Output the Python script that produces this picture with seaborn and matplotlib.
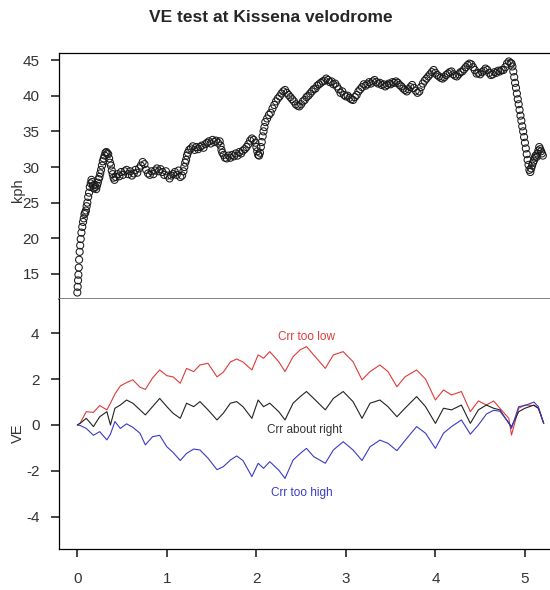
import matplotlib
matplotlib.use("Agg")
import matplotlib.pyplot as plt
import seaborn as sns
import pandas as pd

# speed trace (distance km, speed kph)
dist_km = [
    0.000, 0.004, 0.008, 0.012, 0.016, 0.020, 0.026, 0.032, 0.038, 0.046, 0.055, 0.064,
    0.072, 0.080, 0.088, 0.096, 0.104, 0.112, 0.121, 0.131, 0.140, 0.150, 0.158,
    0.166, 0.175, 0.184, 0.193, 0.202, 0.211, 0.220, 0.229, 0.238, 0.247, 0.256,
    0.265, 0.275, 0.285, 0.295, 0.305, 0.315, 0.325, 0.335, 0.345, 0.355, 0.365, 0.375,
    0.385, 0.395, 0.405, 0.415,
    0.43, 0.45, 0.47, 0.49, 0.51, 0.53, 0.55, 0.57, 0.59, 0.61, 0.63, 0.65, 0.67, 0.69,
    0.71, 0.73, 0.75, 0.77, 0.79, 0.81, 0.83, 0.85, 0.87, 0.89, 0.91, 0.93, 0.95, 0.97,
    0.99, 1.01, 1.03, 1.05, 1.07, 1.09, 1.11, 1.13, 1.15, 1.17,
    1.185, 1.195, 1.205, 1.215, 1.225, 1.235, 1.25, 1.27,
    1.29, 1.31, 1.33, 1.35, 1.37, 1.39, 1.41, 1.43, 1.45, 1.47, 1.49, 1.51, 1.53, 1.55,
    1.57, 1.59, 1.60, 1.61, 1.62, 1.635, 1.65, 1.67, 1.69, 1.71, 1.73, 1.75, 1.77, 1.79,
    1.81, 1.83, 1.85, 1.87, 1.89, 1.91, 1.93, 1.95, 1.97, 1.99, 2.00, 2.01, 2.02, 2.03, 2.04,
    2.05, 2.06, 2.07, 2.08, 2.09, 2.10, 2.12, 2.14, 2.16, 2.18, 2.20, 2.22, 2.24, 2.26,
    2.28, 2.30, 2.32, 2.34, 2.36, 2.38, 2.40, 2.42, 2.44, 2.46, 2.48, 2.50, 2.52, 2.54,
    2.56, 2.58, 2.60, 2.62, 2.64, 2.66, 2.68, 2.70, 2.72, 2.74, 2.76, 2.78, 2.80, 2.82,
    2.84, 2.86, 2.88, 2.90, 2.92, 2.94, 2.96, 2.98, 3.00, 3.02, 3.04, 3.06, 3.08, 3.10,
    3.12, 3.14, 3.16, 3.18, 3.20, 3.22, 3.24, 3.26, 3.28, 3.30, 3.32, 3.34, 3.36, 3.38,
    3.40, 3.42, 3.44, 3.46, 3.48, 3.50, 3.52, 3.54, 3.56, 3.58, 3.60, 3.62, 3.64, 3.66,
    3.68, 3.70, 3.72, 3.74, 3.76, 3.78, 3.80, 3.82, 3.84, 3.86, 3.88, 3.90, 3.92, 3.94,
    3.96, 3.98, 4.00, 4.02, 4.04, 4.06, 4.08, 4.10, 4.12, 4.14, 4.16, 4.18, 4.20, 4.22,
    4.24, 4.26, 4.28, 4.30, 4.32, 4.34, 4.36, 4.38, 4.40, 4.42, 4.44, 4.46, 4.48, 4.50,
    4.52, 4.54, 4.56, 4.58, 4.60, 4.62, 4.64, 4.66, 4.68, 4.70, 4.72, 4.74, 4.76, 4.78,
    4.80, 4.82, 4.84, 4.85,
    4.86, 4.87, 4.88, 4.89, 4.90, 4.91, 4.92, 4.93, 4.94, 4.95, 4.96, 4.97, 4.98, 4.99,
    5.00, 5.01, 5.02, 5.03, 5.04, 5.05, 5.06, 5.07, 5.08, 5.09, 5.10, 5.11, 5.12, 5.13,
    5.14, 5.15, 5.16, 5.17, 5.18, 5.19, 5.20,
]
speed_kph = [
    12.4, 13.2, 14.1, 14.9, 15.9, 17.0, 18.1, 19.0, 19.9, 20.8, 21.6, 22.3,
    22.8, 23.4, 23.6, 23.9, 24.5, 25.0, 25.8, 26.4, 27.2, 27.7, 28.2,
    27.9, 27.4, 27.0, 27.5, 27.2, 26.9, 27.4, 27.8, 28.3, 28.6, 29.1,
    29.6, 30.2, 30.8, 31.2, 31.6, 32.0, 32.1, 31.9, 31.8, 31.2, 30.6, 30.2,
    29.5, 29.0, 28.5, 28.2,
    28.6, 29.0, 28.7, 29.3, 28.9, 29.4, 29.6, 29.0, 29.4, 28.8, 29.1, 29.6, 29.2, 29.8,
    30.2, 30.7, 30.4, 29.6, 29.1, 28.9, 29.4, 29.0, 29.5, 29.8, 29.4, 29.7, 29.3, 28.9,
    29.4, 28.8, 28.4, 28.8, 29.0, 29.3, 28.9, 29.5, 28.6, 28.8,
    29.4, 30.0, 30.6, 31.0, 31.6, 32.0, 32.4, 32.6,
    32.9, 32.4, 32.8, 32.5, 32.8, 33.0, 32.7, 33.2, 33.4, 33.6, 33.3, 33.8, 33.5, 33.7,
    33.4, 33.6, 33.0, 32.4, 32.0, 31.7, 31.3, 31.2, 31.6, 31.3, 31.7, 31.5, 31.9, 31.6,
    32.1, 31.9, 32.3, 32.5, 32.8, 33.2, 33.7, 34.0, 33.8, 33.4, 32.8, 32.2, 31.7, 31.6, 32.0,
    32.8, 33.5, 34.3, 35.0, 35.6, 36.3, 36.8, 37.3, 37.6, 38.2, 38.7, 39.2, 39.6, 39.9,
    40.3, 40.6, 40.8, 40.4, 40.1, 39.8, 39.5, 39.2, 38.8, 38.6, 38.5, 38.8, 39.2, 39.4,
    39.8, 40.0, 40.3, 40.6, 40.9, 41.0, 41.4, 41.6, 41.8, 42.0, 42.1, 42.4, 42.2, 41.9,
    42.0, 41.6, 41.7, 41.3, 40.9, 40.4, 40.6, 40.1, 39.9, 40.0, 39.7, 39.5, 39.4, 39.8,
    40.1, 40.6, 40.9, 41.2, 41.6, 41.4, 41.6, 41.9, 41.7, 42.0, 42.2, 41.9, 41.7, 41.8,
    41.5, 41.6, 41.3, 41.5, 41.7, 41.6, 41.9, 41.8, 42.0, 41.8, 41.5, 41.3, 41.0, 40.8,
    40.6, 40.9, 41.2, 41.5, 41.1, 40.7, 40.4, 40.6, 41.2, 41.7, 42.1, 42.4, 42.7, 43.0,
    43.3, 43.6, 43.2, 42.9, 42.7, 42.5, 42.4, 42.6, 42.9, 43.1, 43.3, 43.4, 43.0, 42.8,
    42.7, 43.0, 43.3, 43.4, 43.7, 44.0, 44.3, 44.5, 44.4, 44.0, 43.6, 43.1, 43.2, 43.0,
    43.3, 43.5, 43.8, 43.6, 43.2, 42.9, 43.0, 43.3, 43.2, 43.5, 43.4, 43.6, 43.6, 44.0,
    44.5, 44.8, 44.6, 44.5,
    44.1, 43.4, 42.6, 41.8, 41.1, 40.3, 39.5, 38.8, 38.0, 37.2, 36.5, 35.7, 35.0, 34.2,
    33.4, 32.6, 31.8, 31.0, 30.3, 29.6, 29.3, 29.8, 30.2, 30.6, 30.9, 31.3, 31.6, 31.4,
    31.9, 32.3, 32.8, 32.5, 32.2, 31.9, 31.6,
]

# virtual elevation for three Crr guesses
ve_dist = [
    0.00, 0.03, 0.10, 0.18, 0.25, 0.33, 0.37, 0.42, 0.48, 0.55, 0.62, 0.70, 0.76, 0.84,
    0.92, 1.00, 1.07, 1.15, 1.22, 1.30, 1.37, 1.46, 1.56, 1.63, 1.71, 1.78, 1.85, 1.95,
    2.02, 2.08, 2.15, 2.25, 2.32, 2.41, 2.49, 2.56, 2.64, 2.77, 2.86, 2.97, 3.08, 3.18,
    3.27, 3.38, 3.47, 3.57, 3.66, 3.79, 3.89, 4.00, 4.09, 4.18, 4.29, 4.39, 4.48, 4.57,
    4.65, 4.72, 4.82, 4.85, 4.93, 5.00, 5.10, 5.15, 5.21,
]
ve_low = [
    0.00, 0.07, 0.58, 0.55, 0.85, 0.66, 0.95, 1.35, 1.70, 1.85, 1.97, 1.65, 1.55, 2.05,
    2.40, 2.15, 2.10, 1.82, 2.47, 2.33, 2.62, 2.69, 2.10, 2.30, 2.75, 2.88, 2.75, 2.40,
    3.06, 2.91, 3.20, 2.76, 2.33, 2.98, 3.28, 3.42, 3.06, 2.47, 3.06, 3.20, 2.76, 1.97,
    2.33, 2.62, 2.33, 1.67, 2.10, 2.40, 2.00, 1.09, 1.53, 1.31, 1.46, 0.58, 1.05, 0.87,
    1.05, 0.73, 0.29, -0.44, 0.73, 0.87, 0.85, 0.73, 0.07,
]
ve_right = [
    0.00, 0.07, 0.29, -0.07, 0.36, 0.58, 0.00, 0.73, 0.87, 1.09, 0.95, 0.66, 0.44, 0.80,
    1.16, 0.80, 0.51, 0.29, 0.95, 0.80, 1.02, 0.66, 0.22, 0.51, 0.95, 1.02, 0.80, 0.29,
    1.09, 0.80, 0.95, 0.58, 0.22, 0.95, 1.24, 1.46, 1.16, 0.66, 1.16, 1.46, 1.02, 0.29,
    0.95, 1.09, 0.80, 0.36, 0.73, 1.24, 0.80, 0.07, 0.73, 0.66, 0.87, 0.07, 0.66, 0.87,
    0.73, 0.66, 0.07, -0.07, 0.58, 0.73, 0.87, 0.73, 0.07,
]
ve_high = [
    0.00, -0.02, -0.15, -0.45, -0.29, -0.65, -0.40, 0.15, -0.15, 0.05, -0.10, -0.36, -0.87, -0.51,
    -0.45, -0.95, -1.20, -1.55, -1.24, -1.05, -1.09, -1.45, -1.95, -1.82, -1.53, -1.35, -1.55, -2.25,
    -1.67, -1.89, -1.60, -1.97, -2.33, -1.53, -1.24, -1.02, -1.38, -1.67, -1.09, -0.73, -1.09, -1.55,
    -0.95, -0.66, -0.80, -1.12, -0.68, -0.07, -0.36, -1.02, -0.36, -0.07, 0.22, -0.40, 0.00, 0.48,
    0.64, 0.60, 0.10, -0.15, 0.80, 0.85, 1.00, 0.80, 0.07,
]

kph_ticks = [15, 20, 25, 30, 35, 40, 45]
ve_ticks = [-4, -2, 0, 2, 4]
dist_ticks = [0, 1, 2, 3, 4, 5]

RED = "#e03a3a"
BLUE = "#3a3ac8"
DARK = "#333333"

sns.set_style("ticks")
plt.rcParams["font.family"] = ["Liberation Sans", "DejaVu Sans"]
plt.rcParams["axes.unicode_minus"] = False

fig = plt.figure(figsize=(5.5, 5.9), dpi=100)
ax1 = fig.add_axes([0.1073, 0.4932, 0.8927, 0.4169])
ax2 = fig.add_axes([0.1073, 0.0695, 0.8927, 0.4237])

speed = pd.DataFrame({"dist": dist_km, "kph": speed_kph})
sns.scatterplot(data=speed, x="dist", y="kph", ax=ax1, s=26, marker="o",
                facecolors="none", edgecolor="#1a1a1a", linewidth=0.75)

ve = pd.DataFrame({"dist": ve_dist, "low": ve_low, "right": ve_right, "high": ve_high})
sns.lineplot(data=ve, x="dist", y="low", ax=ax2, color=RED, lw=0.8, sort=False, estimator=None)
sns.lineplot(data=ve, x="dist", y="right", ax=ax2, color="#222222", lw=0.8, sort=False, estimator=None)
sns.lineplot(data=ve, x="dist", y="high", ax=ax2, color=BLUE, lw=0.8, sort=False, estimator=None)

ax2.text(2.56, 3.85, "Crr too low", color=RED, fontsize=8.5, ha="center", va="center")
ax2.text(2.54, -0.2, "Crr about right", color="#333333", fontsize=8.5, ha="center", va="center")
ax2.text(2.51, -2.97, "Crr too high", color=BLUE, fontsize=8.5, ha="center", va="center")

for ax in (ax1, ax2):
    ax.set_xlim(-0.2045, 5.28)
    ax.set_xlabel("")
    ax.spines["right"].set_visible(False)
    ax.spines["left"].set_color("black")
    ax.spines["left"].set_linewidth(0.9)

ax1.set_ylim(11.49, 45.98)
ax1.set_yticks(kph_ticks)
ax1.set_xticks([])
ax1.spines["top"].set_visible(True)
ax1.spines["top"].set_color("black")
ax1.spines["top"].set_linewidth(0.9)
ax1.spines["bottom"].set_color("#777777")
ax1.spines["bottom"].set_linewidth(1.3)
ax1.tick_params(axis="y", which="major", direction="out", left=True, length=6, width=1.4,
                pad=8, labelsize=11, labelcolor=DARK, color="#444444")
ax1.set_ylabel("kph", fontsize=10.5, color=DARK)
ax1.yaxis.set_label_coords(-0.069, 0.443)

ax2.set_ylim(-5.41, 5.496)
ax2.set_yticks(ve_ticks)
ax2.set_xticks(dist_ticks)
ax2.spines["top"].set_visible(False)
ax2.spines["bottom"].set_color("black")
ax2.spines["bottom"].set_linewidth(0.9)
ax2.tick_params(axis="both", which="major", direction="out", left=True, bottom=True,
                length=6, width=1.4, labelsize=11, labelcolor=DARK, color="#444444")
ax2.tick_params(axis="y", pad=8)
ax2.tick_params(axis="x", pad=10.5)
ax2.set_ylabel("VE", fontsize=10.5, color=DARK)
ax2.yaxis.set_label_coords(-0.069, 0.464)

fig.text(0.4927, 0.9695, "VE test at Kissena velodrome", fontsize=12.5, fontweight="bold",
         ha="center", va="center")

fig.savefig("out.png", dpi=100)
